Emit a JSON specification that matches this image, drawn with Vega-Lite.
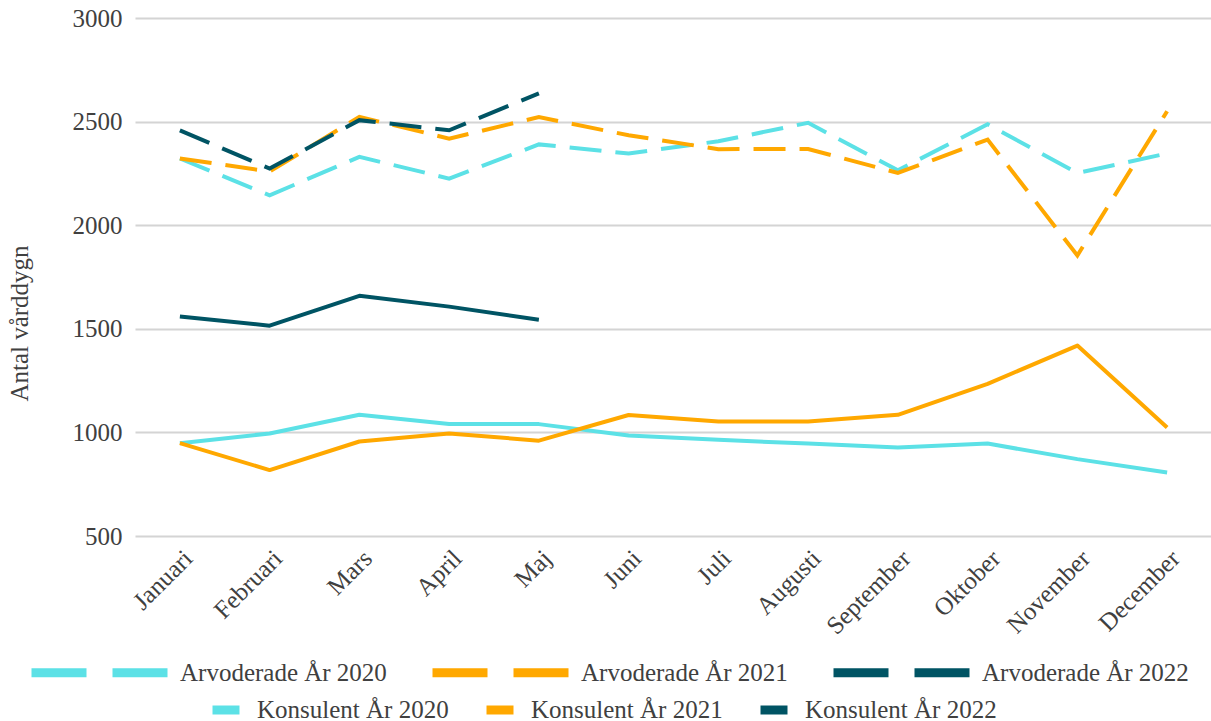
{
  "$schema": "https://vega.github.io/schema/vega-lite/v6.json",
  "width": 1077,
  "height": 518,
  "autosize": "none",
  "padding": {"left": 135, "top": 18, "right": 0, "bottom": 185},
  "background": "white",
  "config": {
    "font": "Liberation Serif",
    "view": {"stroke": null},
    "axis": {"labelFont": "Liberation Serif", "titleFont": "Liberation Serif", "labelColor": "#404040", "titleColor": "#404040"},
    "legend": {"labelFont": "Liberation Serif", "labelColor": "#404040"}
  },
  "data": {
    "values": [
      {"m": "Januari", "s": "Arvoderade År 2020", "t": "A", "v": 2322},
      {"m": "Februari", "s": "Arvoderade År 2020", "t": "A", "v": 2144},
      {"m": "Mars", "s": "Arvoderade År 2020", "t": "A", "v": 2330},
      {"m": "April", "s": "Arvoderade År 2020", "t": "A", "v": 2225},
      {"m": "Maj", "s": "Arvoderade År 2020", "t": "A", "v": 2390},
      {"m": "Juni", "s": "Arvoderade År 2020", "t": "A", "v": 2346},
      {"m": "Juli", "s": "Arvoderade År 2020", "t": "A", "v": 2405},
      {"m": "Augusti", "s": "Arvoderade År 2020", "t": "A", "v": 2494},
      {"m": "September", "s": "Arvoderade År 2020", "t": "A", "v": 2265},
      {"m": "Oktober", "s": "Arvoderade År 2020", "t": "A", "v": 2487},
      {"m": "November", "s": "Arvoderade År 2020", "t": "A", "v": 2252},
      {"m": "December", "s": "Arvoderade År 2020", "t": "A", "v": 2346},
      {"m": "Januari", "s": "Arvoderade År 2021", "t": "A", "v": 2322},
      {"m": "Februari", "s": "Arvoderade År 2021", "t": "A", "v": 2259},
      {"m": "Mars", "s": "Arvoderade År 2021", "t": "A", "v": 2523},
      {"m": "April", "s": "Arvoderade År 2021", "t": "A", "v": 2418},
      {"m": "Maj", "s": "Arvoderade År 2021", "t": "A", "v": 2522},
      {"m": "Juni", "s": "Arvoderade År 2021", "t": "A", "v": 2434},
      {"m": "Juli", "s": "Arvoderade År 2021", "t": "A", "v": 2367},
      {"m": "Augusti", "s": "Arvoderade År 2021", "t": "A", "v": 2368},
      {"m": "September", "s": "Arvoderade År 2021", "t": "A", "v": 2252},
      {"m": "Oktober", "s": "Arvoderade År 2021", "t": "A", "v": 2413},
      {"m": "November", "s": "Arvoderade År 2021", "t": "A", "v": 1854},
      {"m": "December", "s": "Arvoderade År 2021", "t": "A", "v": 2550},
      {"m": "Januari", "s": "Arvoderade År 2022", "t": "A", "v": 2458},
      {"m": "Februari", "s": "Arvoderade År 2022", "t": "A", "v": 2273},
      {"m": "Mars", "s": "Arvoderade År 2022", "t": "A", "v": 2507},
      {"m": "April", "s": "Arvoderade År 2022", "t": "A", "v": 2458},
      {"m": "Maj", "s": "Arvoderade År 2022", "t": "A", "v": 2636},
      {"m": "Januari", "s": "Konsulent År 2020", "t": "K", "v": 948},
      {"m": "Februari", "s": "Konsulent År 2020", "t": "K", "v": 995},
      {"m": "Mars", "s": "Konsulent År 2020", "t": "K", "v": 1085},
      {"m": "April", "s": "Konsulent År 2020", "t": "K", "v": 1040},
      {"m": "Maj", "s": "Konsulent År 2020", "t": "K", "v": 1040},
      {"m": "Juni", "s": "Konsulent År 2020", "t": "K", "v": 985},
      {"m": "Juli", "s": "Konsulent År 2020", "t": "K", "v": 964},
      {"m": "Augusti", "s": "Konsulent År 2020", "t": "K", "v": 946},
      {"m": "September", "s": "Konsulent År 2020", "t": "K", "v": 927},
      {"m": "Oktober", "s": "Konsulent År 2020", "t": "K", "v": 946},
      {"m": "November", "s": "Konsulent År 2020", "t": "K", "v": 871},
      {"m": "December", "s": "Konsulent År 2020", "t": "K", "v": 806},
      {"m": "Januari", "s": "Konsulent År 2021", "t": "K", "v": 948},
      {"m": "Februari", "s": "Konsulent År 2021", "t": "K", "v": 818},
      {"m": "Mars", "s": "Konsulent År 2021", "t": "K", "v": 956},
      {"m": "April", "s": "Konsulent År 2021", "t": "K", "v": 995},
      {"m": "Maj", "s": "Konsulent År 2021", "t": "K", "v": 960},
      {"m": "Juni", "s": "Konsulent År 2021", "t": "K", "v": 1084},
      {"m": "Juli", "s": "Konsulent År 2021", "t": "K", "v": 1053},
      {"m": "Augusti", "s": "Konsulent År 2021", "t": "K", "v": 1053},
      {"m": "September", "s": "Konsulent År 2021", "t": "K", "v": 1085},
      {"m": "Oktober", "s": "Konsulent År 2021", "t": "K", "v": 1234},
      {"m": "November", "s": "Konsulent År 2021", "t": "K", "v": 1419},
      {"m": "December", "s": "Konsulent År 2021", "t": "K", "v": 1024},
      {"m": "Januari", "s": "Konsulent År 2022", "t": "K", "v": 1559},
      {"m": "Februari", "s": "Konsulent År 2022", "t": "K", "v": 1515},
      {"m": "Mars", "s": "Konsulent År 2022", "t": "K", "v": 1659},
      {"m": "April", "s": "Konsulent År 2022", "t": "K", "v": 1607},
      {"m": "Maj", "s": "Konsulent År 2022", "t": "K", "v": 1544}
    ]
  },
  "encoding": {
    "x": {
      "field": "m",
      "type": "nominal",
      "sort": null,
      "scale": {"type": "point", "padding": 0.5, "domain": ["Januari", "Februari", "Mars", "April", "Maj", "Juni", "Juli", "Augusti", "September", "Oktober", "November", "December"]},
      "axis": {"title": null, "labelAngle": -45, "labelAlign": "right", "labelBaseline": "middle", "labelFontSize": 25, "labelPadding": 18, "labelOffset": 8, "ticks": false, "domain": false, "grid": false}
    },
    "y": {
      "field": "v",
      "type": "quantitative",
      "scale": {"domain": [500, 3000], "nice": false, "zero": false},
      "axis": {"title": "Antal vårddygn", "titleFontSize": 25, "titleFontWeight": "normal", "titlePadding": 40, "titleY": 305, "labelFontSize": 25, "labelPadding": 13, "format": "d", "values": [500, 1000, 1500, 2000, 2500, 3000], "ticks": false, "domain": false, "grid": true, "gridColor": "#d4d4d4", "gridWidth": 2}
    }
  },
  "layer": [
    {
      "transform": [{"filter": "datum.t == 'K'"}],
      "mark": {"type": "line", "strokeWidth": 4, "strokeJoin": "round"},
      "encoding": {
        "color": {
          "field": "s",
          "type": "nominal",
          "scale": {"domain": ["Konsulent År 2020", "Konsulent År 2021", "Konsulent År 2022"], "range": ["#5CE1E6", "#FFA800", "#005464"]},
          "legend": {"title": null, "orient": "none", "direction": "horizontal", "legendX": 73, "legendY": 674, "symbolType": "stroke", "symbolSize": 729, "symbolStrokeWidth": 9, "labelFontSize": 25, "labelOffset": 13, "labelLimit": 400, "columnPadding": 19}
        }
      }
    },
    {
      "transform": [{"filter": "datum.t == 'A'"}],
      "mark": {"type": "line", "strokeWidth": 4, "strokeDash": [32, 14], "strokeCap": "butt"},
      "encoding": {
        "color": {
          "field": "s",
          "type": "nominal",
          "scale": {"domain": ["Arvoderade År 2020", "Arvoderade År 2021", "Arvoderade År 2022"], "range": ["#5CE1E6", "#FFA800", "#005464"]},
          "legend": {"title": null, "orient": "none", "direction": "horizontal", "legendX": -108, "legendY": 582, "symbolType": "stroke", "symbolSize": 18496, "symbolStrokeWidth": 9, "symbolDash": [55, 26], "labelFontSize": 25, "labelOffset": 8, "labelLimit": 400, "columnPadding": 27}
        }
      }
    }
  ],
  "resolve": {"scale": {"color": "independent"}}
}
